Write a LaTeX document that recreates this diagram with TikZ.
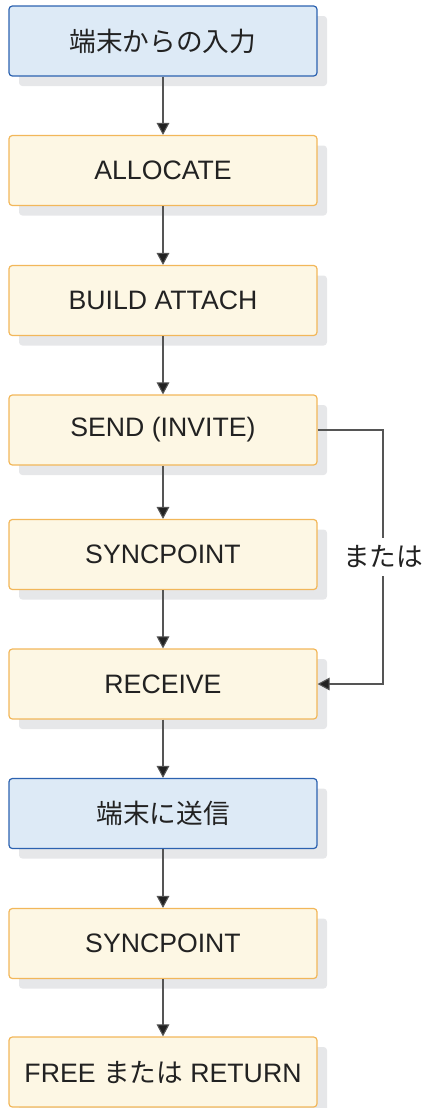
\documentclass[tikz,border=0pt]{standalone}
\usepackage{fontspec}
\setmainfont{Liberation Sans}
\newfontfamily\jp{Noto Sans CJK JP}
\usetikzlibrary{arrows.meta,shadows}
\definecolor{bluefill}{HTML}{DDEAF6}
\definecolor{blueline}{HTML}{2C62B0}
\definecolor{yelfill}{HTML}{FDF7E4}
\definecolor{yelline}{HTML}{F2B75A}
\definecolor{shadowc}{HTML}{E6E7E9}
\definecolor{linec}{HTML}{555555}
\definecolor{txtc}{HTML}{222222}
\begin{document}
\begin{tikzpicture}[x=0.75pt,y=-0.75pt,
  box/.style={rectangle, rounded corners=2.5pt, minimum width=231pt, minimum height=52.5pt,
    inner sep=0pt, line width=0.9pt, text=txtc,
    font=\fontsize{20}{24}\selectfont,
    drop shadow={shadow xshift=7.5pt, shadow yshift=-7.5pt, fill=shadowc, opacity=1}},
  bluebox/.style={box, fill=bluefill, draw=blueline},
  yelbox/.style={box, fill=yelfill, draw=yelline},
  conn/.style={draw=linec, line width=0.8pt, -{Triangle[length=9pt,width=9.5pt,fill=txtc]}}]
\useasboundingbox (0,0) rectangle (425,1108);
\node[bluebox] (b1) at (163,41) {{\jp 端末からの入力}};
\node[yelbox] (b2) at (163,170.5) {ALLOCATE};
\node[yelbox] (b3) at (163,300.5) {BUILD ATTACH};
\node[yelbox] (b4) at (163,430) {SEND (INVITE)};
\node[yelbox] (b5) at (163,554.5) {SYNCPOINT};
\node[yelbox] (b6) at (163,684) {RECEIVE};
\node[bluebox] (b7) at (163,813.5) {{\jp 端末に送信}};
\node[yelbox] (b8) at (163,943.5) {SYNCPOINT};
\node[yelbox] (b9) at (163,1072) {FREE {\jp または} RETURN};
\coordinate (xr) at (383,0);
\draw[conn] (b1) -- (b2);
\draw[conn] (b2) -- (b3);
\draw[conn] (b3) -- (b4);
\draw[conn] (b4) -- (b5);
\draw[conn] (b5) -- (b6);
\draw[conn] (b6) -- (b7);
\draw[conn] (b7) -- (b8);
\draw[conn] (b8) -- (b9);
\draw[conn] (b4.east) -- (b4.east -| xr) -- (b6.east -| xr)
  node[pos=0.5, fill=white, inner xsep=1pt, inner ysep=6pt, text=txtc, font=\fontsize{20}{24}\selectfont\jp] (lbl) {または}
  -- (b6.east);
\end{tikzpicture}
\end{document}
